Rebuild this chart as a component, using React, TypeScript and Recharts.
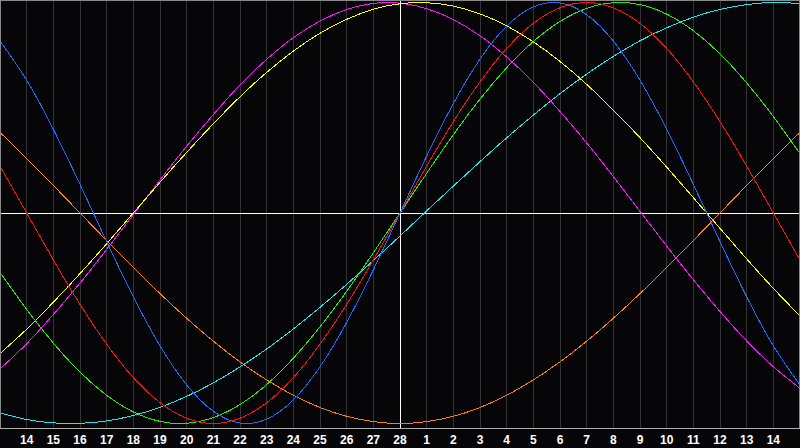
import React from 'react';
import { LineChart, Line, XAxis, YAxis, CartesianGrid, ReferenceLine } from 'recharts';

const days = [-15, -14, -13, -12, -11, -10, -9, -8, -7, -6, -5, -4, -3, -2, -1, 0, 1, 2, 3, 4, 5, 6, 7, 8, 9, 10, 11, 12, 13, 14, 15];
const dayLabels = ['13', '14', '15', '16', '17', '18', '19', '20', '21', '22', '23', '24', '25', '26', '27', '28', '1', '2', '3', '4', '5', '6', '7', '8', '9', '10', '11', '12', '13', '14', '15'];
const tickDays = [-14, -13, -12, -11, -10, -9, -8, -7, -6, -5, -4, -3, -2, -1, 0, 1, 2, 3, 4, 5, 6, 7, 8, 9, 10, 11, 12, 13, 14];

const blue = [0.817, 0.631, 0.398, 0.136, -0.136, -0.398, -0.631, -0.817, -0.942, -0.998, -0.979, -0.888, -0.731, -0.52, -0.27, 0, 0.27, 0.52, 0.731, 0.888, 0.979, 0.998, 0.942, 0.817, 0.631, 0.398, 0.136, -0.136, -0.398, -0.631, -0.817];
const red = [0.223, 0, -0.223, -0.434, -0.623, -0.782, -0.901, -0.975, -1, -0.975, -0.901, -0.782, -0.623, -0.434, -0.223, 0, 0.223, 0.434, 0.623, 0.782, 0.901, 0.975, 1, 0.975, 0.901, 0.782, 0.623, 0.434, 0.223, 0, -0.223];
const green = [-0.282, -0.458, -0.618, -0.756, -0.866, -0.945, -0.99, -0.999, -0.972, -0.91, -0.815, -0.69, -0.541, -0.372, -0.189, 0, 0.189, 0.372, 0.541, 0.69, 0.815, 0.91, 0.972, 0.999, 0.99, 0.945, 0.866, 0.756, 0.618, 0.458, 0.282];
const cyan = [-0.95, -0.981, -0.997, -0.999, -0.988, -0.962, -0.923, -0.871, -0.807, -0.731, -0.646, -0.551, -0.448, -0.339, -0.226, -0.109, 0.01, 0.128, 0.244, 0.357, 0.465, 0.567, 0.66, 0.744, 0.818, 0.88, 0.93, 0.967, 0.99, 1.0, 0.995];
const yellow = [-0.668, -0.552, -0.424, -0.288, -0.146, 0, 0.146, 0.288, 0.424, 0.552, 0.668, 0.769, 0.854, 0.92, 0.968, 0.994, 0.999, 0.983, 0.946, 0.889, 0.813, 0.72, 0.611, 0.489, 0.358, 0.218, 0.073, -0.073, -0.218, -0.358, -0.489];
const magenta = [-0.741, -0.621, -0.482, -0.333, -0.173, -0.008, 0.157, 0.317, 0.468, 0.608, 0.73, 0.833, 0.912, 0.967, 0.996, 0.997, 0.971, 0.919, 0.842, 0.741, 0.621, 0.482, 0.333, 0.173, 0.008, -0.157, -0.317, -0.468, -0.608, -0.73, -0.833];
const orange = [0.383, 0.259, 0.131, 0, -0.131, -0.259, -0.383, -0.5, -0.609, -0.707, -0.793, -0.866, -0.924, -0.966, -0.991, -1, -0.991, -0.966, -0.924, -0.866, -0.793, -0.707, -0.609, -0.5, -0.383, -0.259, -0.131, 0, 0.131, 0.259, 0.383];

const seriesKeys = ['orange', 'cyan', 'magenta', 'yellow', 'green', 'red', 'blue'];
const seriesColors: Record<string, string> = {
  blue: '#1a6cff',
  red: '#ff1010',
  green: '#22f000',
  cyan: '#20e8f0',
  yellow: '#ffff00',
  magenta: '#ff10ff',
  orange: '#ff8000',
};

const data = days.map((t, i) => ({
  t,
  label: dayLabels[i],
  blue: blue[i],
  red: red[i],
  green: green[i],
  cyan: cyan[i],
  yellow: yellow[i],
  magenta: magenta[i],
  orange: orange[i],
}));

const labelFor = (v: number) => {
  const i = days.indexOf(v);
  return i >= 0 ? dayLabels[i] : '';
};

export default function App() {
  return (
    <div style={{ position: 'absolute', left: 0, top: 0, width: 800, height: 448, background: '#060609', overflow: 'hidden' }}>
      <LineChart width={800} height={448} data={data} margin={{ top: 0, right: 0, bottom: 0, left: 0 }}>
        <CartesianGrid vertical horizontal={false} stroke="#333335" shapeRendering="crispEdges" />
        <XAxis
          dataKey="t"
          type="number"
          domain={[-15, 15]}
          ticks={tickDays}
          interval={0}
          tickFormatter={labelFor}
          axisLine={false}
          tickLine={false}
          tickSize={5}
          tickMargin={2}
          height={20}
          tick={{ fill: '#ffffff', fontSize: 12, fontWeight: 'bold', fontFamily: 'Liberation Sans' }}
        />
        <YAxis hide type="number" domain={[-1.0214, 1.0119]} allowDataOverflow />
        <ReferenceLine x={0} stroke="#ffffff" strokeWidth={1} shapeRendering="crispEdges" />
        <ReferenceLine y={0} stroke="#ffffff" strokeWidth={1} shapeRendering="crispEdges" />
        {seriesKeys.map((k) => (
          <Line
            key={k}
            type="natural"
            dataKey={k}
            stroke={seriesColors[k]}
            strokeWidth={1}
            shapeRendering="crispEdges"
            dot={false}
            activeDot={false}
            isAnimationActive={false}
          />
        ))}
      </LineChart>
      <div
        style={{
          position: 'absolute',
          left: 0,
          top: 0,
          width: 800,
          height: 429,
          boxSizing: 'border-box',
          borderTop: '1px solid #8a8a8a',
          borderLeft: '1px solid #8a8a8a',
          borderRight: '1px solid #8a8a8a',
          borderBottom: '1px solid #b0b0b0',
          pointerEvents: 'none',
        }}
      />
    </div>
  );
}
